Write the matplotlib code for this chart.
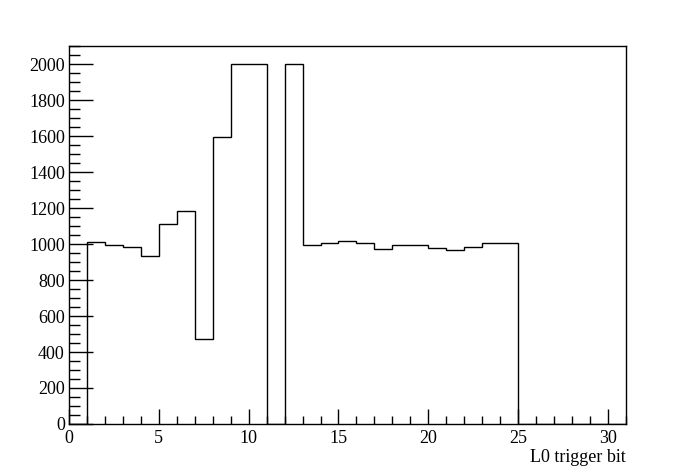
import numpy as np
import matplotlib
matplotlib.use('Agg')
from matplotlib import pyplot as plt
from matplotlib.ticker import MultipleLocator

# L0 trigger bit histogram, bins of width 1 from 0 to 31
bin_edges = np.arange(0, 32)
counts = [0, 1012, 992, 984, 936, 1109, 1185, 473, 1597, 2000,
          2000, 0, 2000, 997, 1003, 1018, 1003, 973, 997, 997,
          979, 967, 984, 1008, 1003, 0, 0, 0, 0, 0, 0]

plt.rcParams['font.family'] = ['Liberation Serif', 'DejaVu Serif']

fig = plt.figure(figsize=(6.96, 4.72), dpi=100)
ax = fig.add_axes([0.0991, 0.1017, 0.8003, 0.8008])

ax.stairs(counts, bin_edges, color='black', linewidth=1.0)

ax.set_xlim(0, 31)
ax.set_ylim(0, 2100)
ax.xaxis.set_major_locator(MultipleLocator(5))
ax.xaxis.set_minor_locator(MultipleLocator(1))
ax.yaxis.set_major_locator(MultipleLocator(200))
ax.yaxis.set_minor_locator(MultipleLocator(50))

ax.tick_params(axis='both', which='both', direction='in', top=False, right=False,
               labelsize=13, width=1.0, color='black')
ax.tick_params(axis='x', which='major', length=11, pad=4.5)
ax.tick_params(axis='x', which='minor', length=6)
ax.tick_params(axis='y', which='major', length=17, pad=3)
ax.tick_params(axis='y', which='minor', length=8)

for s in ax.spines.values():
    s.set_linewidth(1.0)

ax.set_xlabel('L0 trigger bit', fontsize=13, loc='right', labelpad=1.5)

fig.savefig('out.png', dpi=100)
